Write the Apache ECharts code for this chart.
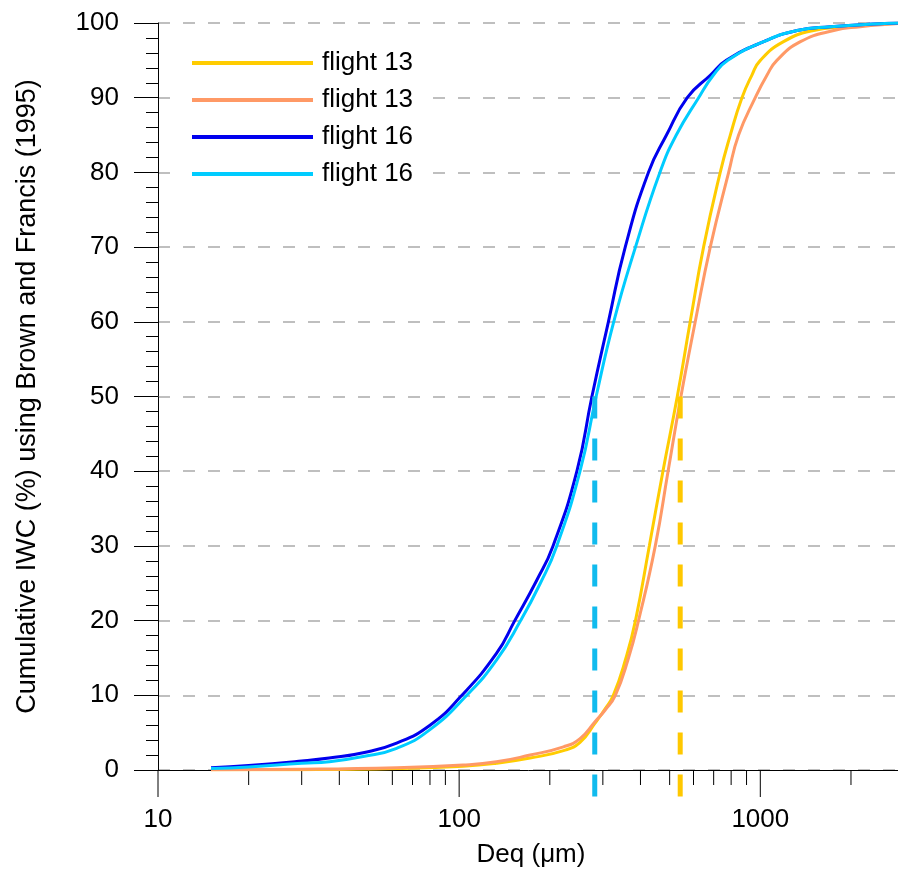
<!DOCTYPE html>
<html>
<head>
<meta charset="utf-8">
<script src="https://cdn.jsdelivr.net/npm/echarts@6/dist/echarts.min.js"></script>
<style>
  html, body { margin: 0; padding: 0; background: #fff; }
  #chart { width: 898px; height: 870px; }
</style>
</head>
<body>
<div id="chart"></div>
<script>
const FONT = '"Liberation Sans", Arial, sans-serif';

// cumulative IWC (%) against Deq (µm)
const flight13a = [
  [15, 0.02], [30, 0.05], [62, 0.2], [103, 0.5], [133, 0.9], [172, 1.6], [222, 2.6],
  [252, 3.7], [283, 6.3], [303, 8], [325, 10], [358, 15], [385, 20], [428, 30],
  [475, 40], [530, 50], [585, 60], [648, 70], [736, 80], [795, 85], [869, 90],
  [937, 93], [1000, 95], [1194, 97.5], [1503, 99], [1941, 99.5], [2600, 99.9], [3000, 100]
];
const flight13b = [
  [15, 0.05], [30, 0.1], [62, 0.3], [103, 0.67], [133, 1.1], [172, 2.0], [222, 3.1],
  [252, 4.2], [283, 6.5], [305, 8], [330, 10], [365, 15], [394, 20], [448, 30],
  [494, 40], [545, 50], [608, 60], [682, 70], [785, 80], [847, 85], [962, 90],
  [1052, 93], [1135, 95], [1359, 97.5], [1753, 99], [2148, 99.5], [2800, 99.9], [3000, 100]
];
const flight16a = [
  [15, 0.3], [20, 0.6], [30, 1.2], [37, 1.6], [48, 2.3], [62, 3.6], [80, 6.0],
  [101, 9.8], [133, 15.6], [153, 20], [181, 25.4], [205, 30], [246, 40], [276, 50],
  [313, 60], [356, 70], [425, 80], [488, 85], [572, 90], [682, 93], [771, 95],
  [1026, 97.5], [1325, 99], [1710, 99.5], [2500, 99.9], [3000, 100]
];
const flight16b = [
  [15, 0.2], [20, 0.4], [30, 0.9], [37, 1.1], [48, 1.8], [62, 2.9], [80, 5.4],
  [106, 10], [133, 14.7], [160, 20], [186, 25], [211, 30], [252, 40], [285, 50],
  [326, 60], [385, 70], [464, 80], [526, 85], [624, 90], [698, 93], [780, 95],
  [1026, 97.5], [1325, 99], [1710, 99.5], [2500, 99.9], [3000, 100]
];

const seriesKeys = ['f13a', 'f13b', 'f16a', 'f16b'];
const seriesLabels = ['flight 13', 'flight 13', 'flight 16', 'flight 16'];
const seriesData = [flight13a, flight13b, flight16a, flight16b];
const seriesColors = ['#ffcc00', '#ff9966', '#0000ee', '#00ccff'];

// median diameters (50 %), dashed markers
const medianD = [282, 542];
const medianTop = 50;
const medianBottom = -3.6;
const medianColors = ['#11bbee', '#ffc800'];

const xMajorTicks = [10, 100, 1000];
const xMinorTicks = [20, 30, 40, 50, 60, 70, 80, 90, 200, 300, 400, 500, 600, 700, 800, 900, 2000, 3000];

const chart = echarts.init(document.getElementById('chart'));

const curveSeries = seriesKeys.map((key, i) => ({
  name: key,
  type: 'line',
  data: seriesData[i],
  showSymbol: false,
  smooth: 0.5,
  color: seriesColors[i],
  lineStyle: { width: 3, color: seriesColors[i] },
  z: 3 + i
}));

const medianSeries = medianD.map((d, i) => ({
  type: 'line',
  data: [[d, medianTop], [d, medianBottom]],
  showSymbol: false,
  clip: false,
  lineStyle: { width: 5, color: medianColors[i], type: [22, 20] },
  z: 10
}));

const tickSeries = {
  type: 'custom',
  coordinateSystem: 'cartesian2d',
  clip: false,
  silent: true,
  data: xMajorTicks.concat(xMinorTicks).map(v => [v, 0]),
  renderItem: (params, api) => {
    const v = api.value(0);
    const p = api.coord([v, 0]);
    const len = xMajorTicks.includes(v) ? 27 : 15;
    return {
      type: 'line',
      shape: { x1: p[0], y1: p[1], x2: p[0], y2: p[1] + len },
      style: { stroke: '#000', lineWidth: 1 }
    };
  },
  z: 2
};

chart.setOption({
  animation: false,
  backgroundColor: '#fff',
  textStyle: { fontFamily: FONT },
  grid: { left: 158, top: 23, width: 746, height: 747, outerBoundsMode: 'none' },
  legend: {
    data: seriesKeys,
    orient: 'vertical',
    left: 172,
    top: 38,
    padding: [12, 16, 12, 20],
    backgroundColor: '#fff',
    icon: 'rect',
    itemWidth: 121,
    itemHeight: 4,
    itemGap: 11,
    formatter: name => seriesLabels[seriesKeys.indexOf(name)],
    textStyle: { fontSize: 26, color: '#000', fontFamily: FONT, padding: [0, 0, 0, 4] }
  },
  xAxis: {
    type: 'log',
    logBase: 10,
    min: 10,
    max: 3000,
    axisLine: { show: true, onZero: false, lineStyle: { color: '#000', width: 1 } },
    axisTick: { show: false },
    splitLine: { show: false },
    axisLabel: {
      margin: 37,
      fontSize: 26,
      color: '#000',
      fontFamily: FONT,
      showMaxLabel: false,
      formatter: v => String(Math.round(v))
    },
    name: 'Deq (μm)',
    nameLocation: 'middle',
    nameGap: 72,
    nameTextStyle: { fontSize: 26, color: '#000', fontFamily: FONT }
  },
  yAxis: {
    type: 'value',
    min: 0,
    max: 100,
    interval: 10,
    axisLine: { show: true, lineStyle: { color: '#000', width: 1 } },
    axisTick: { show: true, length: 24, lineStyle: { color: '#000' } },
    minorTick: { show: true, splitNumber: 5, length: 12, lineStyle: { color: '#000' } },
    axisLabel: { margin: 39, fontSize: 26, color: '#000', fontFamily: FONT },
    splitLine: { show: true, lineStyle: { color: '#aaa', width: 1.5, type: [12, 13] } },
    name: 'Cumulative IWC (%) using Brown and Francis (1995)',
    nameLocation: 'middle',
    nameGap: 117,
    nameTextStyle: { fontSize: 27, color: '#000', fontFamily: FONT }
  },
  series: [tickSeries].concat(curveSeries, medianSeries)
});
</script>
</body>
</html>
